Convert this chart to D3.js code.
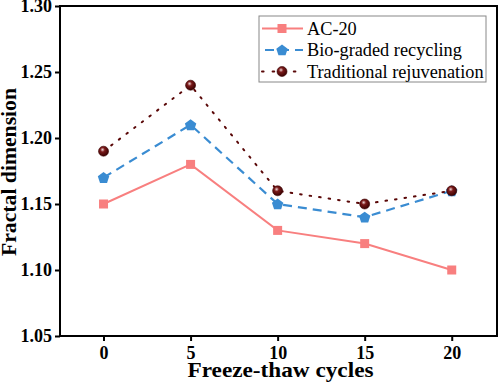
<!DOCTYPE html>
<html><head><meta charset="utf-8">
<script src="https://cdn.jsdelivr.net/npm/d3@7"></script>
<style>body{margin:0;background:#fff}svg{display:block}</style>
</head><body><svg id="c" width="498" height="382"></svg>
<script>
const cycles = [0, 5, 10, 15, 20];
const ac20 = [1.15, 1.18, 1.13, 1.12, 1.10];
const bioGraded = [1.17, 1.21, 1.15, 1.14, 1.16];
const traditional = [1.19, 1.24, 1.16, 1.15, 1.16];
const yTicks = [1.05, 1.10, 1.15, 1.20, 1.25, 1.30];
const xTicks = [0, 5, 10, 15, 20];
const seriesNames = ["AC-20", "Bio-graded recycling", "Traditional rejuvenation"];

const svg = d3.select("#c");
const m = {l: 60, r: 1, t: 6, b: 46};
const W = 498, H = 382;
const x = d3.scaleLinear().domain([-2.5, 22.6]).range([m.l, W - m.r]);
const y = d3.scaleLinear().domain([1.05, 1.30]).range([H - m.b, m.t]);
const font = "'Liberation Serif','Times New Roman',serif";

const defs = svg.append("defs");
const rg = defs.append("radialGradient").attr("id","ball").attr("cx","40%").attr("cy","35%").attr("r","65%");
rg.append("stop").attr("offset","0%").attr("stop-color","#f0d8d8");
rg.append("stop").attr("offset","35%").attr("stop-color","#7a1a1a");
rg.append("stop").attr("offset","100%").attr("stop-color","#3a0202");

const series = [
  {name: seriesNames[0], vals: ac20, color: "#f87f7f", dash: null, width: 2, marker: "square"},
  {name: seriesNames[1], vals: bioGraded, color: "#3a8cd2", dash: "9,6", width: 2.2, marker: "pentagon"},
  {name: seriesNames[2], vals: traditional, color: "#5a0808", dash: "1.6,8", width: 2, marker: "ball"}
];

function drawMarker(g, type, color, cx, cy) {
  if (type === "square") {
    g.append("rect").attr("x", cx-4.5).attr("y", cy-4.5).attr("width", 9).attr("height", 9).attr("fill", color);
  } else if (type === "pentagon") {
    const r = 6, pts = [];
    for (let i = 0; i < 5; i++) { const a = -Math.PI/2 + i*2*Math.PI/5; pts.push([cx + r*Math.cos(a), cy + 0.5 + r*Math.sin(a)]); }
    g.append("polygon").attr("points", pts.map(p=>p.join(",")).join(" ")).attr("fill", color);
  } else {
    g.append("circle").attr("cx", cx).attr("cy", cy).attr("r", 5).attr("fill", "url(#ball)").attr("stroke","#3a0202").attr("stroke-width",0.6);
  }
}

const line = d3.line().x((d,i)=>x(cycles[i])).y(d=>y(d));
series.forEach(s => {
  svg.append("path").attr("d", line(s.vals)).attr("fill","none").attr("stroke", s.color)
    .attr("stroke-width", s.width).attr("stroke-dasharray", s.dash).attr("stroke-linecap", s.marker==="ball"?"round":"butt");
});
series.forEach(s => {
  const g = svg.append("g");
  s.vals.forEach((v,i) => drawMarker(g, s.marker, s.color, x(cycles[i]), y(v)));
});

// frame
svg.append("rect").attr("x", m.l).attr("y", m.t).attr("width", W - m.r - m.l).attr("height", H - m.b - m.t)
  .attr("fill","none").attr("stroke","#000").attr("stroke-width",2);

// axes
const xa = svg.append("g").attr("transform",`translate(0,${H-m.b})`)
  .call(d3.axisBottom(x).tickValues(xTicks).tickSize(5).tickPadding(5).tickFormat(d3.format("d")));
const ya = svg.append("g").attr("transform",`translate(${m.l},0)`)
  .call(d3.axisLeft(y).tickValues(yTicks).tickSize(5).tickPadding(3).tickFormat(d3.format(".2f")));
[xa, ya].forEach(a => {
  a.attr("font-family", null).attr("font-size", null);
  a.select(".domain").remove();
  a.selectAll(".tick line").attr("stroke","#000").attr("stroke-width",2);
  a.selectAll("text").style("font-family", font).style("font-weight","bold").style("font-size", "18px").attr("fill","#000");
});

svg.append("text").attr("x", (m.l + W - m.r)/2 + 2).attr("y", 377).attr("text-anchor","middle")
  .style("font-family", font).style("font-weight","bold").style("font-size", "21px")
  .attr("textLength", 186).attr("lengthAdjust","spacingAndGlyphs").text("Freeze-thaw cycles");
svg.append("text").attr("transform", `translate(16,${(m.t + H - m.b)/2 + 1}) rotate(-90)`).attr("text-anchor","middle")
  .style("font-family", font).style("font-weight","bold").style("font-size", "20px")
  .attr("textLength", 168).attr("lengthAdjust","spacingAndGlyphs").text("Fractal dimension");

// legend
const lg = svg.append("g");
lg.append("rect").attr("x", 259).attr("y", 16).attr("width", 227).attr("height", 66)
  .attr("fill","#fff").attr("stroke","#888").attr("stroke-width",1);
series.forEach((s,i) => {
  const ly = 28.5 + i*21.5;
  lg.append("line").attr("x1", 262).attr("x2", 303).attr("y1", ly).attr("y2", ly)
    .attr("stroke", s.color).attr("stroke-width", s.width).attr("stroke-dasharray", s.marker==="ball" ? "1.6,9" : (s.dash ? "9,6" : null))
    .attr("stroke-dashoffset", s.marker==="pentagon" ? -3 : 0).attr("stroke-linecap", s.marker==="ball"?"round":"butt");
  drawMarker(lg, s.marker, s.color, 282, ly);
  lg.append("text").attr("x", 307).attr("y", ly + 6).style("font-family", font).style("font-size", "18.3px").attr("fill","#000").text(s.name);
});
</script></body></html>
